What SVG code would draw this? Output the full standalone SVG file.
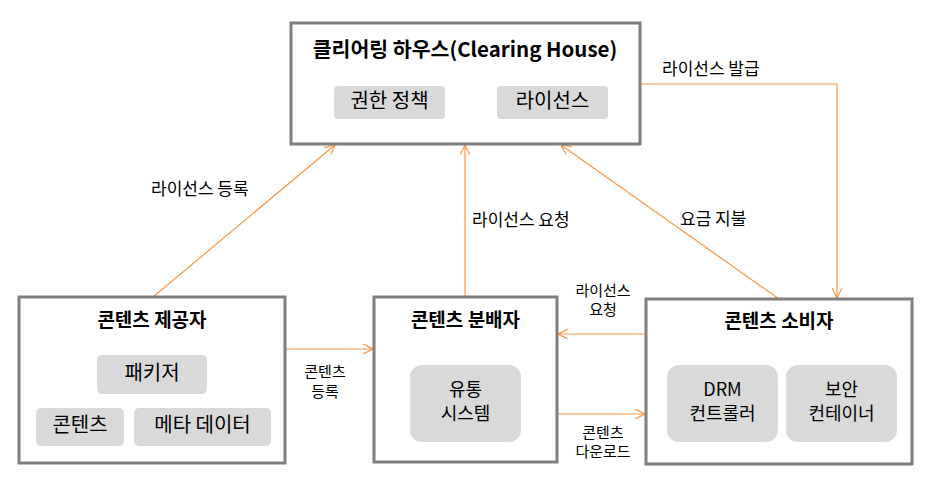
<svg xmlns="http://www.w3.org/2000/svg" width="940" height="498" viewBox="0 0 940 498">
<defs>
<style>
.box{fill:#fff;stroke:#7f7f7f;stroke-width:3}
.inner{fill:#d9d9d9;stroke:none}
.title{font-family:"Noto Sans CJK KR","Liberation Sans",sans-serif;font-size:19px;font-weight:bold;fill:#000;text-anchor:middle}
.itext{font-family:"Noto Sans CJK KR","Liberation Sans",sans-serif;font-size:20px;fill:#000;text-anchor:middle}
.itext2{font-family:"Noto Sans CJK KR","Liberation Sans",sans-serif;font-size:18px;fill:#000;text-anchor:middle}
.lbl{font-family:"Noto Sans CJK KR","Liberation Sans",sans-serif;font-size:17px;fill:#000}
.lbl2{font-family:"Noto Sans CJK KR","Liberation Sans",sans-serif;font-size:15px;fill:#000;text-anchor:middle}
.conn{fill:none;stroke:#f79646;stroke-width:1.2}
</style>
<marker id="arr" viewBox="0 0 10 10" refX="10" refY="5" markerWidth="10" markerHeight="10" markerUnits="userSpaceOnUse" orient="auto">
<path d="M0,0 L10,5 L0,10" fill="none" stroke="#f79646" stroke-width="1.2"/>
</marker>
</defs>
<rect width="940" height="498" fill="#fff"/>

<g id="connectors">
<polyline class="conn" points="640,84 837,84 837,298" marker-end="url(#arr)"/>
<line class="conn" x1="153" y1="297" x2="335" y2="145" marker-end="url(#arr)"/>
<line class="conn" x1="465" y1="297" x2="465" y2="145" marker-end="url(#arr)"/>
<line class="conn" x1="779" y1="299" x2="561" y2="145" marker-end="url(#arr)"/>
<line class="conn" x1="285" y1="349" x2="373" y2="349" marker-end="url(#arr)"/>
<line class="conn" x1="646" y1="334" x2="558" y2="334" marker-end="url(#arr)"/>
<line class="conn" x1="557" y1="414" x2="645" y2="414" marker-end="url(#arr)"/>
<text class="lbl" x="662" y="75">라이선스 발급</text>
<text class="lbl" x="151" y="195">라이선스 등록</text>
<text class="lbl" x="472" y="226">라이선스 요청</text>
<text class="lbl" x="680" y="225">요금 지불</text>
<text class="lbl2" x="325" y="377">콘텐츠</text>
<text class="lbl2" x="325" y="397">등록</text>
<text class="lbl2" x="603" y="296">라이선스</text>
<text class="lbl2" x="603" y="315">요청</text>
<text class="lbl2" x="603" y="438">콘텐츠</text>
<text class="lbl2" x="603" y="457">다운로드</text>
</g>

<g id="clearing-house">
<rect class="box" x="291" y="23" width="349" height="121"/>
<text class="title" x="465" y="57" style="font-size:20.5px">클리어링 하우스(Clearing House)</text>
<rect class="inner" x="334" y="86" width="111" height="33" rx="4"/>
<text class="itext" x="389.5" y="108">권한 정책</text>
<rect class="inner" x="497" y="86" width="111" height="33" rx="4"/>
<text class="itext" x="552.5" y="108">라이선스</text>
</g>

<g id="provider">
<rect class="box" x="19" y="297" width="266" height="166"/>
<text class="title" x="152" y="327">콘텐츠 제공자</text>
<rect class="inner" x="97" y="355" width="110" height="39" rx="5"/>
<text class="itext" x="152" y="380">패키저</text>
<rect class="inner" x="36" y="408" width="88" height="38" rx="5"/>
<text class="itext" x="80" y="432">콘텐츠</text>
<rect class="inner" x="134" y="408" width="137" height="38" rx="5"/>
<text class="itext" x="202.5" y="432">메타 데이터</text>
</g>

<g id="distributor">
<rect class="box" x="374" y="297" width="183" height="165"/>
<text class="title" x="465.5" y="327">콘텐츠 분배자</text>
<rect class="inner" x="410" y="365" width="111" height="77" rx="12"/>
<text class="itext2" x="465.5" y="396">유통</text>
<text class="itext2" x="465.5" y="420">시스템</text>
</g>

<g id="consumer">
<rect class="box" x="646" y="299" width="266" height="165"/>
<text class="title" x="779" y="328">콘텐츠 소비자</text>
<rect class="inner" x="667" y="365" width="111" height="77" rx="12"/>
<text class="itext2" x="722.5" y="396">DRM</text>
<text class="itext2" x="722.5" y="420">컨트롤러</text>
<rect class="inner" x="786" y="365" width="111" height="77" rx="12"/>
<text class="itext2" x="841.5" y="396">보안</text>
<text class="itext2" x="841.5" y="420">컨테이너</text>
</g>
</svg>
